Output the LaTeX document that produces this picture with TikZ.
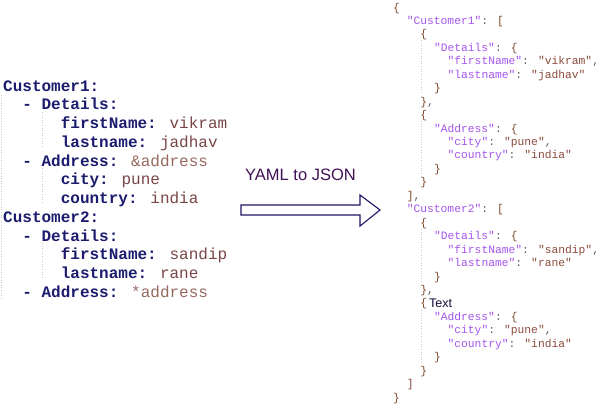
\documentclass[tikz,border=0pt]{standalone}
\usepackage{fontspec}
\newfontfamily\monof{Liberation Mono}
\newfontfamily\sansf{Liberation Sans}
\definecolor{ykeyc}{RGB}{28,28,110}
\definecolor{yvalc}{RGB}{120,70,70}
\definecolor{yancc}{RGB}{150,105,95}
\definecolor{jkeyc}{RGB}{165,85,235}
\definecolor{jvalc}{RGB}{140,75,60}
\definecolor{jbrc}{RGB}{125,75,45}
\definecolor{jcolc}{RGB}{95,95,95}
\definecolor{arrc}{RGB}{30,20,100}
\definecolor{guidec}{RGB}{200,200,200}
\newcommand\ykey[1]{\textcolor{ykeyc}{\bfseries #1}}
\newcommand\yval[1]{\textcolor{yvalc}{#1}}
\newcommand\yanc[1]{\textcolor{yancc}{#1}}
\newcommand\jkey[1]{\textcolor{jkeyc}{"#1"}\textcolor{jcolc}{:}}
\newcommand\jval[1]{\textcolor{jvalc}{"#1"}}
\newcommand\jbr[1]{\textcolor{jbrc}{#1}}
\tikzset{
  yline/.style={anchor=base west, inner sep=0pt, font=\monof\fontsize{16}{18}\selectfont},
  jline/.style={anchor=base west, inner sep=0pt, font=\monof\fontsize{11.3}{13}\selectfont},
  guide/.style={draw=guidec, dotted, line width=0.6pt},
  blockarrow/.style={draw=arrc, line width=1.1pt, fill=white, line join=miter},
}
\begin{document}
\begin{tikzpicture}[x=1pt,y=-1pt]
\useasboundingbox (0,0) rectangle (612,407);
% YAML
\newcommand\yl[4]{\node[yline] (#1) at ({3+9.6*#3},{91+18.75*#2}) {#4};}
\draw[guide] (1.5,95) -- (1.5,300);
\draw[guide] (42,112) -- (42,146);
\draw[guide] (42,168) -- (42,202);
\draw[guide] (42,243) -- (42,277);
\yl{y0}{0}{0}{\ykey{Customer1:}}
\yl{y1}{1}{2}{\ykey{- Details:}}
\yl{y2}{2}{6}{\ykey{firstName:} \yval{vikram}}
\yl{y3}{3}{6}{\ykey{lastname:} \yval{jadhav}}
\yl{y4}{4}{2}{\ykey{- Address:} \yanc{\&address}}
\yl{y5}{5}{6}{\ykey{city:} \yval{pune}}
\yl{y6}{6}{6}{\ykey{country:} \yval{india}}
\yl{y7}{7}{0}{\ykey{Customer2:}}
\yl{y8}{8}{2}{\ykey{- Details:}}
\yl{y9}{9}{6}{\ykey{firstName:} \yval{sandip}}
\yl{y10}{10}{6}{\ykey{lastname:} \yval{rane}}
\yl{y11}{11}{2}{\ykey{- Address:} \yanc{*address}}
% arrow
\node[anchor=base west, inner sep=0pt, font=\sansf\fontsize{16.5}{18}\selectfont, text=arrc!85!red] (lab) at (245,180) {YAML to JSON};
\draw[blockarrow] (241,205) -- (360,205) -- (360,195) -- (380,210) -- (360,226) -- (360,215) -- (241,215) -- cycle;
% JSON
\newcommand\jl[4]{\node[jline] (#1) at ({393+6.8*#3},{11+13.45*#2}) {#4};}
\draw[guide] (421,40) -- (421,94);
\draw[guide] (421,121) -- (421,175);
\draw[guide] (421,229) -- (421,283);
\draw[guide] (421,310) -- (421,364);
\jl{j0}{0}{0}{\jbr{\{}}
\jl{j1}{1}{2}{\jkey{Customer1} \jbr{[}}
\jl{j2}{2}{4}{\jbr{\{}}
\jl{j3}{3}{6}{\jkey{Details} \jbr{\{}}
\jl{j4}{4}{8}{\jkey{firstName} \jval{vikram}\textcolor{jcolc}{,}}
\jl{j5}{5}{8}{\jkey{lastname} \jval{jadhav}}
\jl{j6}{6}{6}{\jbr{\}}}
\jl{j7}{7}{4}{\jbr{\}}\textcolor{jcolc}{,}}
\jl{j8}{8}{4}{\jbr{\{}}
\jl{j9}{9}{6}{\jkey{Address} \jbr{\{}}
\jl{j10}{10}{8}{\jkey{city} \jval{pune}\textcolor{jcolc}{,}}
\jl{j11}{11}{8}{\jkey{country} \jval{india}}
\jl{j12}{12}{6}{\jbr{\}}}
\jl{j13}{13}{4}{\jbr{\}}}
\jl{j14}{14}{2}{\jbr{]}\textcolor{jcolc}{,}}
\jl{j15}{15}{2}{\jkey{Customer2} \jbr{[}}
\jl{j16}{16}{4}{\jbr{\{}}
\jl{j17}{17}{6}{\jkey{Details} \jbr{\{}}
\jl{j18}{18}{8}{\jkey{firstName} \jval{sandip}\textcolor{jcolc}{,}}
\jl{j19}{19}{8}{\jkey{lastname} \jval{rane}}
\jl{j20}{20}{6}{\jbr{\}}}
\jl{j21}{21}{4}{\jbr{\}}\textcolor{jcolc}{,}}
\jl{j22}{22}{4}{\jbr{\{}}
\node[anchor=base west, inner sep=0pt, font=\sansf\fontsize{12.5}{14}\selectfont, text=arrc!60!black] (txt) at (429,{11+13.45*22+1}) {Text};
\jl{j23}{23}{6}{\jkey{Address} \jbr{\{}}
\jl{j24}{24}{8}{\jkey{city} \jval{pune}\textcolor{jcolc}{,}}
\jl{j25}{25}{8}{\jkey{country} \jval{india}}
\jl{j26}{26}{6}{\jbr{\}}}
\jl{j27}{27}{4}{\jbr{\}}}
\jl{j28}{28}{2}{\jbr{]}}
\jl{j29}{29}{0}{\jbr{\}}}
\end{tikzpicture}
\end{document}
